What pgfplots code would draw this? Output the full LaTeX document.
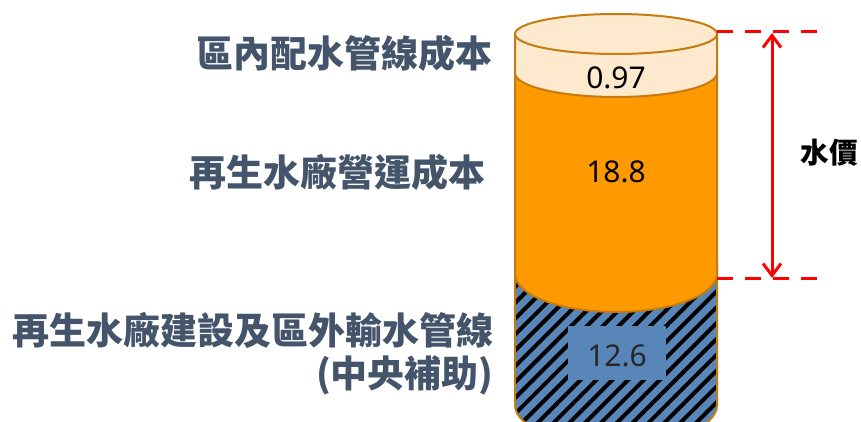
\documentclass[border=0pt]{standalone}
\usepackage{pgfplots}
\pgfplotsset{compat=1.18}
\usepackage{fontspec}
\setmainfont{Noto Sans}
\newfontfamily\cjk{Noto Sans CJK TC}
\usetikzlibrary{patterns.meta,arrows.meta}
\definecolor{lbl}{HTML}{44546A}
\definecolor{peach}{HTML}{FDE9CD}
\definecolor{org}{HTML}{FF9900}
\definecolor{edge}{HTML}{C67B10}
\definecolor{blu}{HTML}{5886B8}
\begin{document}
\begin{tikzpicture}
\begin{axis}[
  width=430.5pt, height=211pt, scale only axis,
  xmin=0, xmax=861, ymin=0, ymax=422,
  hide axis, clip=true,
]
\path (0,0) rectangle (861,422);
% bottom segment: 12.6 (central subsidy) hatched
\fill[blu, postaction={pattern={Lines[angle=45,distance=5.6pt,line width=2pt]}, pattern color=black}]
  (515,160) -- (515,17) .. controls (515,-5.1) and (560.2,-23) .. (616,-23)
  .. controls (671.8,-23) and (717,-5.1) .. (717,17) -- (717,160) -- cycle;
\draw[edge, line width=1pt]
  (515,160) -- (515,17) .. controls (515,-5.1) and (560.2,-23) .. (616,-23)
  .. controls (671.8,-23) and (717,-5.1) .. (717,17) -- (717,160);
% middle segment: 18.8
\filldraw[fill=org, draw=edge, line width=1pt]
  (515,349) -- (515,148) .. controls (515,127) and (560.2,110) .. (616,110)
  .. controls (671.8,110) and (717,127) .. (717,148) -- (717,349)
  .. controls (717,362.3) and (671.8,373) .. (616,373)
  .. controls (560.2,373) and (515,362.3) .. (515,349) -- cycle;
% top segment: 0.97
\filldraw[fill=peach, draw=edge, line width=1pt]
  (515,388) -- (515,349) .. controls (515,335.7) and (560.2,325) .. (616,325)
  .. controls (671.8,325) and (717,335.7) .. (717,349) -- (717,388)
  .. controls (717,399) and (671.8,408) .. (616,408)
  .. controls (560.2,408) and (515,399) .. (515,388) -- cycle;
\draw[edge, line width=1pt]
  (515,388) .. controls (515,377) and (560.2,368) .. (616,368)
  .. controls (671.8,368) and (717,377) .. (717,388);
% value labels
\fill[blu] (568,42) rectangle (666,96);
\node[font=\fontsize{15}{18}\selectfont, text=black] at (616,344) {0.97};
\node[font=\fontsize{15}{18}\selectfont, text=black] at (616,250) {18.8};
\node[font=\fontsize{15}{18}\selectfont, text=black!85] at (617,66) {12.6};
% left labels
\node[anchor=east, inner sep=0pt, font=\cjk\bfseries\fontsize{18.5}{22}\selectfont, text=lbl] at (493,369) {區內配水管線成本};
\node[anchor=east, inner sep=0pt, font=\cjk\bfseries\fontsize{18.5}{22}\selectfont, text=lbl] at (486,250) {再生水廠營運成本};
\node[anchor=east, inner sep=0pt, font=\cjk\bfseries\fontsize{18.5}{22}\selectfont, text=lbl] at (494,92) {再生水廠建設及區外輸水管線};
\node[anchor=east, inner sep=0pt, font=\cjk\bfseries\fontsize{18.5}{22}\selectfont, text=lbl] at (494,47) {(中央補助)};
% water price bracket
\draw[red, line width=1.5pt, dash pattern=on 8pt off 6pt] (717,390) -- (817,390);
\draw[red, line width=1.5pt, dash pattern=on 8pt off 6pt] (717,143) -- (817,143);
\draw[red, line width=1.5pt, {Straight Barb[length=6pt,width=9pt]}-{Straight Barb[length=6pt,width=9pt]}] (772,389) -- (772,144);
\node[font=\cjk\bfseries\fontsize{14.3}{17}\selectfont, text=black] at (829,269) {水價};
\end{axis}
\end{tikzpicture}
\end{document}
